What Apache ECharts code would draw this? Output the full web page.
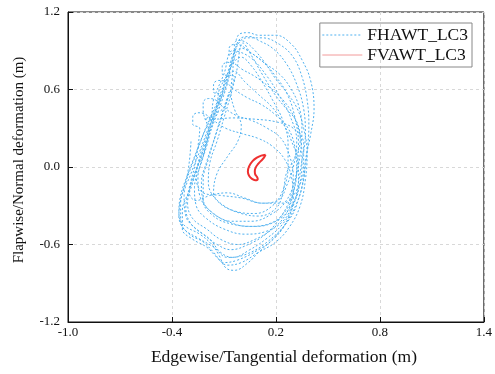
<!DOCTYPE html>
<html>
<head>
<meta charset="utf-8">
<script src="https://cdn.jsdelivr.net/npm/echarts@6/dist/echarts.min.js"></script>
<style>
  html, body { margin: 0; padding: 0; background: #fff; }
  #chart { width: 495px; height: 374px; }
</style>
</head>
<body>
<div id="chart"></div>
<script>
// Axis ticks
const xTicks = [-1.0, -0.4, 0.2, 0.8, 1.4];
const yTicks = [-1.2, -0.6, 0.0, 0.6, 1.2];

// FHAWT_LC3 blade tip path, one revolution per row: edgewise (x) deformation, m
const fhawtEdge = [
  -0.03, -0.01, 0.04, 0.10, 0.20, 0.29, 0.35, 0.40, 0.42, 0.40, 0.37, 0.36, 0.32, 0.25, 0.18, 0.10, 0.04, -0.04, -0.09, -0.13, -0.17, -0.24, -0.33, -0.36, -0.35, -0.31, -0.27, -0.22, -0.16, -0.11, -0.07, -0.04,
  -0.04, -0.02, 0.02, 0.08, 0.14, 0.20, 0.26, 0.32, 0.36, 0.38, 0.37, 0.34, 0.28, 0.20, 0.10, 0.00, -0.08, -0.14, -0.20, -0.28, -0.34, -0.34, -0.30, -0.26, -0.21, -0.16, -0.11, -0.07, -0.05,
  0.03, 0.12, 0.22, 0.30, 0.35, 0.38, 0.39, 0.38, 0.36, 0.33, 0.28, 0.15, 0.02, -0.08, -0.16, -0.25, -0.33, -0.36, -0.34, -0.30, -0.25, -0.20, -0.14, -0.09, -0.05,
  0.00, 0.05, 0.10, 0.18, 0.26, 0.32, 0.36, 0.37, 0.35, 0.33, 0.30, 0.24, 0.15, 0.05, -0.05, -0.12, -0.18, -0.26, -0.32, -0.33, -0.29, -0.24, -0.19, -0.14, -0.09, -0.06, -0.03,
  -0.07, -0.07, -0.04, 0.00, 0.04, 0.12, 0.20, 0.27, 0.31, 0.33, 0.32, 0.30, 0.26, 0.18, 0.08, -0.02, -0.12, -0.20, -0.28, -0.31, -0.28, -0.24, -0.20, -0.15, -0.11, -0.08,
  0.00, 0.06, 0.12, 0.18, 0.24, 0.27, 0.27, 0.24, 0.18, 0.08, -0.04, -0.14, -0.19, -0.18, -0.14, -0.10, -0.06, -0.03,
  0.01, 0.06, 0.12, 0.20, 0.26, 0.32, 0.34, 0.30, 0.26, 0.24, 0.20, 0.10, 0.00, -0.10, -0.16, -0.14, -0.08, -0.02, 0.00, -0.04, -0.06, -0.05, -0.04,
  0.00, 0.06, 0.14, 0.22, 0.28, 0.33, 0.35, 0.34, 0.31, 0.26, 0.18, 0.06, -0.06, -0.16, -0.22, -0.23, -0.20, -0.16, -0.12, -0.08, -0.04,
  -0.11, -0.11, -0.08, -0.04, 0.00, 0.08, 0.16, 0.24, 0.30, 0.34, 0.35, 0.34, 0.30, 0.24, 0.14, 0.02, -0.10, -0.20, -0.26, -0.27, -0.24, -0.20, -0.17, -0.14, -0.12,
  -0.04, 0.02, 0.10, 0.18, 0.24, 0.29, 0.33, 0.33, 0.28, 0.20, 0.08, -0.06, -0.16, -0.22, -0.22, -0.19, -0.15, -0.11, -0.07,
  -0.10, -0.17, -0.21, -0.16, -0.05, 0.08, 0.20, 0.30, 0.36, 0.36, 0.32, 0.24, 0.12, 0.00, -0.12, -0.22, -0.26, -0.24, -0.20, -0.16, -0.12,
  -0.16, -0.16, -0.13, -0.09, -0.05, 0.03, 0.12, 0.20, 0.27, 0.31, 0.32, 0.30, 0.25, 0.16, 0.04, -0.08, -0.18, -0.24, -0.25, -0.22, -0.19, -0.17, -0.16,
  -0.10, -0.05, 0.05, 0.15, 0.22, 0.28, 0.32, 0.30, 0.26, 0.22, 0.12, 0.02, -0.08, -0.18, -0.26, -0.30, -0.27, -0.22, -0.19,
  -0.22, -0.22, -0.19, -0.15, -0.11, -0.03, 0.06, 0.15, 0.23, 0.28, 0.30, 0.28, 0.22, 0.14, 0.04, -0.06, -0.14, -0.22, -0.29, -0.32, -0.30, -0.27, -0.25, -0.24,
  -0.28, -0.28, -0.25, -0.21, -0.17, -0.09, 0.00, 0.10, 0.18, 0.25, 0.29, 0.30, 0.27, 0.20, 0.10, -0.02, -0.10, -0.16, -0.22, -0.30, -0.35, -0.35, -0.32, -0.30, -0.29
];
// FHAWT_LC3 flapwise (y) deformation, m
const fhawtFlap = [
  0.98, 1.03, 1.04, 1.02, 1.02, 0.95, 0.83, 0.67, 0.45, 0.25, 0.05, -0.10, -0.28, -0.45, -0.56, -0.66, -0.74, -0.80, -0.78, -0.68, -0.60, -0.52, -0.45, -0.36, -0.22, -0.06, 0.08, 0.25, 0.42, 0.58, 0.74, 0.88,
  0.95, 0.98, 0.97, 0.90, 0.80, 0.68, 0.58, 0.46, 0.30, 0.10, -0.10, -0.30, -0.46, -0.58, -0.66, -0.74, -0.76, -0.70, -0.62, -0.56, -0.48, -0.34, -0.18, -0.02, 0.16, 0.34, 0.52, 0.70, 0.86,
  1.00, 1.00, 0.95, 0.85, 0.70, 0.52, 0.32, 0.12, -0.08, -0.25, -0.40, -0.58, -0.68, -0.70, -0.62, -0.55, -0.48, -0.38, -0.20, -0.04, 0.14, 0.32, 0.50, 0.68, 0.85,
  1.00, 1.01, 0.98, 0.92, 0.80, 0.64, 0.45, 0.25, 0.05, -0.12, -0.30, -0.44, -0.55, -0.64, -0.70, -0.66, -0.56, -0.48, -0.38, -0.22, -0.05, 0.12, 0.30, 0.46, 0.62, 0.78, 0.92,
  0.86, 0.92, 0.95, 0.94, 0.90, 0.82, 0.70, 0.55, 0.38, 0.18, -0.02, -0.20, -0.36, -0.48, -0.56, -0.60, -0.56, -0.48, -0.40, -0.28, -0.12, 0.05, 0.22, 0.40, 0.56, 0.72,
  0.85, 0.78, 0.66, 0.52, 0.36, 0.18, 0.00, -0.18, -0.30, -0.36, -0.34, -0.26, -0.12, 0.04, 0.20, 0.38, 0.56, 0.72,
  0.96, 0.86, 0.72, 0.55, 0.45, 0.35, 0.20, 0.05, -0.05, -0.20, -0.32, -0.38, -0.36, -0.30, -0.20, -0.05, 0.08, 0.20, 0.32, 0.45, 0.58, 0.72, 0.84,
  0.92, 0.88, 0.80, 0.72, 0.62, 0.48, 0.30, 0.10, -0.10, -0.26, -0.36, -0.42, -0.42, -0.36, -0.26, -0.12, 0.04, 0.20, 0.36, 0.52, 0.70,
  0.72, 0.78, 0.81, 0.80, 0.76, 0.70, 0.62, 0.52, 0.40, 0.24, 0.05, -0.12, -0.28, -0.42, -0.50, -0.52, -0.48, -0.40, -0.30, -0.16, 0.00, 0.16, 0.32, 0.48, 0.62,
  0.74, 0.66, 0.56, 0.46, 0.34, 0.20, 0.02, -0.16, -0.32, -0.42, -0.46, -0.44, -0.38, -0.26, -0.10, 0.06, 0.24, 0.42, 0.58,
  0.46, 0.40, 0.37, 0.37, 0.38, 0.37, 0.35, 0.30, 0.18, 0.00, -0.18, -0.28, -0.28, -0.24, -0.22, -0.20, -0.08, 0.08, 0.24, 0.40, 0.56,
  0.58, 0.64, 0.67, 0.66, 0.61, 0.54, 0.48, 0.40, 0.30, 0.15, -0.02, -0.20, -0.35, -0.44, -0.46, -0.42, -0.34, -0.22, -0.08, 0.08, 0.24, 0.40, 0.52,
  0.72, 0.90, 0.85, 0.70, 0.55, 0.40, 0.20, 0.00, -0.15, -0.25, -0.28, -0.24, -0.20, -0.22, -0.26, -0.20, -0.05, 0.10, 0.28,
  0.44, 0.50, 0.53, 0.52, 0.47, 0.40, 0.36, 0.30, 0.22, 0.08, -0.08, -0.25, -0.40, -0.52, -0.60, -0.64, -0.60, -0.52, -0.44, -0.32, -0.16, 0.00, 0.16, 0.30,
  0.33, 0.39, 0.42, 0.41, 0.37, 0.30, 0.26, 0.22, 0.16, 0.06, -0.08, -0.24, -0.40, -0.54, -0.64, -0.72, -0.74, -0.66, -0.58, -0.52, -0.42, -0.28, -0.12, 0.04, 0.20
];

// FVAWT_LC3 blade tip path
const fvawtEdge = [0.140, 0.115, 0.090, 0.065, 0.045, 0.038, 0.045, 0.062, 0.080, 0.095, 0.090, 0.080, 0.078, 0.083, 0.095, 0.112, 0.130, 0.140];
const fvawtFlap = [0.095, 0.088, 0.072, 0.045, 0.005, -0.035, -0.068, -0.092, -0.102, -0.092, -0.075, -0.055, -0.030, -0.005, 0.020, 0.045, 0.070, 0.095];

const pairs = (xs, ys) => xs.map((x, i) => [x, ys[i]]);

const serif = '"Liberation Serif", "DejaVu Serif", serif';
const fmt = v => Number(v).toFixed(1);
const blue = '#4fb1f0';
const red = '#ee3030';

const chart = echarts.init(document.getElementById('chart'), null, { renderer: 'canvas' });
chart.setOption({
  animation: false,
  backgroundColor: '#fff',
  grid: {
    left: 68, right: 8, top: 12, bottom: 52,
    show: true, borderColor: '#111', borderWidth: 1, backgroundColor: 'transparent'
  },
  legend: {
    right: 23, top: 23,
    orient: 'vertical',
    itemWidth: 40, itemHeight: 10, itemGap: 2,
    padding: [3, 4, 3, 2],
    borderColor: '#888', borderWidth: 1,
    itemStyle: { opacity: 0 },
    textStyle: { fontFamily: serif, fontSize: 17.5, color: '#111' },
    data: [
      { name: 'FHAWT_LC3', lineStyle: { color: blue, width: 1, type: [2, 2] } },
      { name: 'FVAWT_LC3', lineStyle: { color: '#f29a9a', width: 1 } }
    ]
  },
  xAxis: {
    type: 'value',
    min: xTicks[0], max: xTicks[xTicks.length - 1], interval: 0.6,
    name: 'Edgewise/Tangential deformation (m)',
    nameLocation: 'middle', nameGap: 26,
    nameTextStyle: { fontFamily: serif, fontSize: 17.5, color: '#111', padding: [0, 0, 0, 16] },
    axisLine: { onZero: false, lineStyle: { color: '#111', width: 1 } },
    axisTick: { inside: true, length: 5, lineStyle: { color: '#111' } },
    axisLabel: { fontFamily: serif, fontSize: 13, color: '#111', margin: 4, formatter: fmt },
    splitLine: { show: true, lineStyle: { color: '#d8d8d8', type: [3, 3], width: 1 } }
  },
  yAxis: {
    type: 'value',
    min: yTicks[0], max: yTicks[yTicks.length - 1], interval: 0.6,
    name: 'Flapwise/Normal deformation (m)',
    nameLocation: 'middle', nameGap: 41,
    nameTextStyle: { fontFamily: serif, fontSize: 15, color: '#111', padding: [0, 0, 0, 14] },
    axisLine: { onZero: false, lineStyle: { color: '#111', width: 1 } },
    axisTick: { inside: true, length: 5, lineStyle: { color: '#111' } },
    axisLabel: { fontFamily: serif, fontSize: 13, color: '#111', margin: 8, formatter: fmt },
    splitLine: { show: true, lineStyle: { color: '#d8d8d8', type: [3, 3], width: 1 } }
  },
  series: [
    {
      name: 'FHAWT_LC3',
      type: 'line',
      data: pairs(fhawtEdge, fhawtFlap),
      showSymbol: false, symbol: 'none',
      smooth: 0.4,
      lineStyle: { color: blue, width: 1, type: [2, 2] },
      itemStyle: { color: blue }
    },
    {
      name: 'FVAWT_LC3',
      type: 'line',
      data: pairs(fvawtEdge, fvawtFlap),
      showSymbol: false, symbol: 'none',
      smooth: 0.4,
      lineStyle: { color: red, width: 2 },
      itemStyle: { color: red }
    }
  ]
});
</script>
</body>
</html>
